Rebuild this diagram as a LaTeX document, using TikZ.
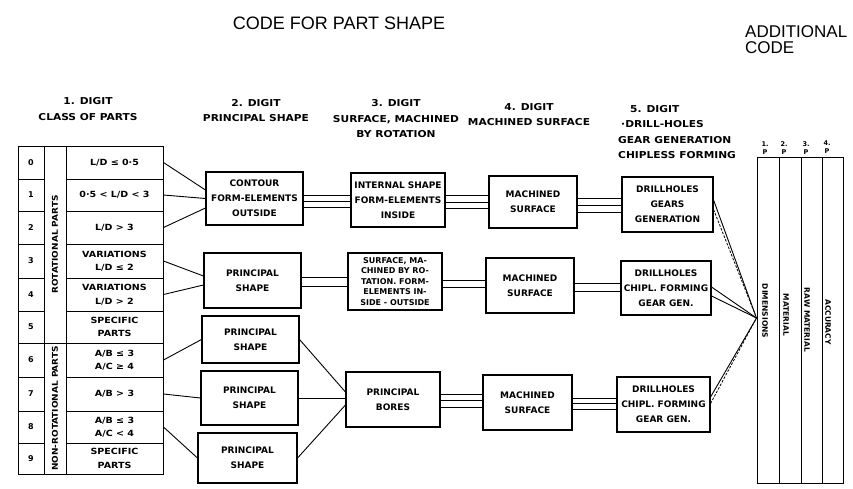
\documentclass[tikz,border=0pt]{standalone}
\usepackage{fontspec}
\setmainfont{DejaVu Sans}
\newfontfamily\ttlfont{Liberation Sans}
\newfontfamily\widefont[FakeStretch=1.12]{DejaVu Sans}
\begin{document}
\begin{tikzpicture}[x=1pt,y=-1pt,
  box/.style={draw, line width=1.1pt, inner sep=1pt, align=center, font=\bfseries\fontsize{9}{15}\selectfont},
  cell/.style={draw, line width=1pt, inner sep=0pt, align=center, minimum width=97pt, font=\widefont\bfseries\fontsize{8.5}{13.5}\selectfont},
  num/.style={draw, line width=1pt, inner sep=0pt, minimum width=26pt, font=\bfseries\fontsize{8}{10}\selectfont},
  strip/.style={draw, line width=1pt, inner sep=0pt, minimum width=22pt},
  acol/.style={draw, line width=1pt, inner sep=0pt, minimum height=326pt},
  conn/.style={line width=0.9pt},
  dconn/.style={line width=0.8pt, dash pattern=on 2.5pt off 1.5pt},
  hdr/.style={align=center, inner sep=0pt, font=\widefont\bfseries\fontsize{9.5}{15.5}\selectfont},
  rlbl/.style={inner sep=0pt, font=\widefont\bfseries\fontsize{8}{9}\selectfont},
  albl/.style={inner sep=0pt, font=\bfseries\fontsize{7.5}{8}\selectfont},
  tlbl/.style={inner sep=0pt, align=center, font=\bfseries\fontsize{6.5}{7.5}\selectfont},
]
\useasboundingbox (0,0) rectangle (853,488);

% titles
\node[inner sep=0pt, font=\ttlfont\fontsize{18}{20}\selectfont] (title) at (339,23) {CODE FOR PART SHAPE};
\node[inner sep=0pt, anchor=west, align=left, font=\ttlfont\fontsize{17}{16}\selectfont] (addtitle) at (745,40) {ADDITIONAL\\CODE};

% column headers
\node[hdr] (h1) at (88,109) {1. DIGIT\\CLASS OF PARTS};
\node[hdr] (h2) at (256,110.5) {2. DIGIT\\PRINCIPAL SHAPE};
\node[hdr] (h3) at (396,119) {3. DIGIT\\SURFACE, MACHINED\\BY ROTATION};
\node[hdr] (h4) at (529,114.5) {4. DIGIT\\MACHINED SURFACE};
\node[hdr, anchor=west, align=left] (h5) at (618,132) {\hspace*{12pt}5. DIGIT\\\hspace*{3pt}·DRILL-HOLES\\GEAR GENERATION\\CHIPLESS FORMING};

% class of parts table
\node[num, minimum height=33pt] (n0) at (31,162.5) {0};
\node[num, minimum height=32pt] (n1) at (31,195) {1};
\node[num, minimum height=33pt] (n2) at (31,227.5) {2};
\node[num, minimum height=34pt] (n3) at (31,261) {3};
\node[num, minimum height=33pt] (n4) at (31,294.5) {4};
\node[num, minimum height=32pt] (n5) at (31,327) {5};
\node[num, minimum height=34pt] (n6) at (31,360) {6};
\node[num, minimum height=34pt] (n7) at (31,394) {7};
\node[num, minimum height=32pt] (n8) at (31,427) {8};
\node[num, minimum height=31pt] (n9) at (31,458.5) {9};

\node[cell, minimum height=33pt] (r0) at (114.5,162.5) {L/D ≤ 0·5};
\node[cell, minimum height=32pt] (r1) at (114.5,195) {0·5 < L/D < 3};
\node[cell, minimum height=33pt] (r2) at (114.5,227.5) {L/D > 3};
\node[cell, minimum height=34pt] (r3) at (114.5,261) {VARIATIONS\\L/D ≤ 2};
\node[cell, minimum height=33pt] (r4) at (114.5,294.5) {VARIATIONS\\L/D > 2};
\node[cell, minimum height=32pt] (r5) at (114.5,327) {SPECIFIC\\PARTS};
\node[cell, minimum height=34pt] (r6) at (114.5,360) {A/B ≤ 3\\A/C ≥ 4};
\node[cell, minimum height=34pt] (r7) at (114.5,394) {A/B > 3};
\node[cell, minimum height=32pt] (r8) at (114.5,427) {A/B ≤ 3\\A/C < 4};
\node[cell, minimum height=31pt] (r9) at (114.5,458.5) {SPECIFIC\\PARTS};

\node[strip, minimum height=197pt] (rotstrip) at (55,244.5) {};
\node[strip, minimum height=131pt] (nonrotstrip) at (55,408.5) {};
\node[rlbl, rotate=90] (rotlbl) at (rotstrip) {ROTATIONAL PARTS};
\node[rlbl, rotate=90] (nonrotlbl) at (nonrotstrip) {NON-ROTATIONAL PARTS};

% digit 2 boxes
\node[box, minimum width=97pt, minimum height=53pt] (A) at (254.5,198.5) {CONTOUR\\FORM-ELEMENTS\\OUTSIDE};
\node[box, minimum width=97pt, minimum height=55pt] (B) at (252.5,280.5) {PRINCIPAL\\SHAPE};
\node[box, minimum width=97pt, minimum height=47pt] (C) at (250.5,339.5) {PRINCIPAL\\SHAPE};
\node[box, minimum width=97pt, minimum height=54pt] (D) at (249.5,398) {PRINCIPAL\\SHAPE};
\node[box, minimum width=99pt, minimum height=50pt] (E) at (247.5,458) {PRINCIPAL\\SHAPE};

% digit 3 boxes
\node[box, minimum width=94pt, minimum height=54pt] (F) at (398,200) {INTERNAL SHAPE\\FORM-ELEMENTS\\INSIDE};
\node[box, minimum width=94pt, minimum height=57pt, font=\bfseries\fontsize{8}{10.5}\selectfont] (G) at (395,281.5) {SURFACE, MA-\\CHINED BY RO-\\TATION. FORM-\\ELEMENTS IN-\\SIDE - OUTSIDE};
\node[box, minimum width=94pt, minimum height=55pt] (H) at (393,399.5) {PRINCIPAL\\BORES};

% digit 4 boxes
\node[box, minimum width=88pt, minimum height=52pt] (I) at (533,202) {MACHINED\\SURFACE};
\node[box, minimum width=88pt, minimum height=55pt] (J) at (530,285.5) {MACHINED\\SURFACE};
\node[box, minimum width=89pt, minimum height=55pt] (K) at (527.5,402.5) {MACHINED\\SURFACE};

% digit 5 boxes
\node[box, minimum width=91pt, minimum height=55pt] (L) at (667.5,204.5) {DRILLHOLES\\GEARS\\GENERATION};
\node[box, minimum width=90pt, minimum height=54pt] (M) at (666,288) {DRILLHOLES\\CHIPL. FORMING\\GEAR GEN.};
\node[box, minimum width=93pt, minimum height=55pt] (N) at (663.5,404.5) {DRILLHOLES\\CHIPL. FORMING\\GEAR GEN.};

% additional code columns
\node[acol, minimum width=22.5pt] (c1) at (768.25,320) {};
\node[acol, minimum width=21.5pt] (c2) at (790.25,320) {};
\node[acol, minimum width=21pt] (c3) at (811.5,320) {};
\node[acol, minimum width=21pt] (c4) at (832.5,320) {};
\node[albl, rotate=-90] (l1) at (765,311) {DIMENSIONS};
\node[albl, rotate=-90] (l2) at (786,315) {MATERIAL};
\node[albl, rotate=-90] (l3) at (807,320) {RAW MATERIAL};
\node[albl, rotate=-90] (l4) at (828,322) {ACCURACY};
\node[tlbl] (t1) at (765,148) {1.\\P};
\node[tlbl] (t2) at (784,148) {2.\\P};
\node[tlbl] (t3) at (806,148) {3.\\P};
\node[tlbl] (t4) at (827,147) {4.\\P};

% table to digit 2
\draw[conn] (r0.east) -- ([yshift=8.5pt]A.west);
\draw[conn] (r1.east) -- (A.west);
\draw[conn] (r2.east) -- ([yshift=-9.5pt]A.west);
\draw[conn] (r3.east) -- ([yshift=4.5pt]B.west);
\draw[conn] (r4.east) -- ([yshift=-4.5pt]B.west);
\draw[conn] (r6.east) -- (C.west);
\draw[conn] (r7.east) -- (D.west);
\draw[conn] (r8.east) -- (E.west);

% parallel links
\foreach \s/\t/\d in {A/F/3.5, A/F/-2.5, A/F/-8.5, B/G/3.5, B/G/-5.5,
  F/I/5, F/I/-2, F/I/-8, G/J/1, G/J/-6, H/K/5.5, H/K/-0.5, H/K/-7.5,
  I/L/4, I/L/-3, I/L/-10, J/M/2.5, J/M/-5.5, K/N/4.5, K/N/-1, K/N/-6.5}
{ \path ([yshift=\d pt]\s.east) coordinate (pl);
  \draw[conn] (pl) -- (pl -| \t.west); }

% principal shapes to principal bores
\draw[conn] (C.east) -- ([yshift=7.5pt]H.west);
\draw[conn] (D.east) -- ([yshift=1.5pt]H.west);
\draw[conn] (E.east) -- ([yshift=-5.5pt]H.west);

% digit 5 to additional code
\coordinate (cv) at ([yshift=2pt]c1.west);
\draw[conn] ([yshift=4.5pt]L.east) -- (cv);
\draw[dconn] ([yshift=-5pt]L.east) -- (cv);
\draw[conn] ([yshift=1pt]M.east) -- (cv);
\draw[conn] ([yshift=-8pt]M.east) -- (cv);
\draw[conn] ([yshift=7.5pt]N.east) -- (cv);
\draw[dconn] ([yshift=1pt]N.east) -- (cv);
\end{tikzpicture}
\end{document}
